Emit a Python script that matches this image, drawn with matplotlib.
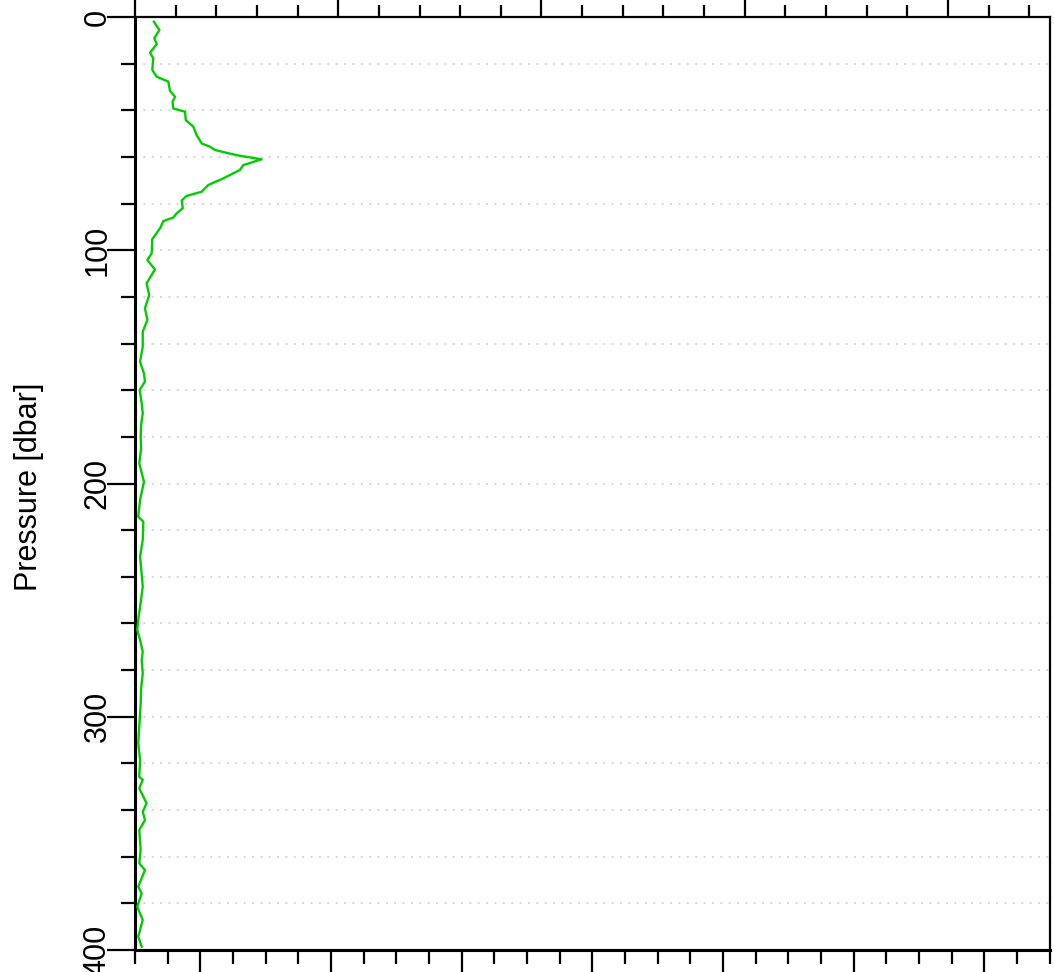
import matplotlib
matplotlib.use("Agg")
import matplotlib.pyplot as plt
from matplotlib.ticker import MultipleLocator, NullFormatter

plt.rcParams['font.family'] = ['Liberation Sans', 'DejaVu Sans']

# Profile data (value in top-axis units, pressure in dbar)
pressure = [2.0, 5.6, 9.1, 11.6, 15.3, 17.7, 22.7, 25.6, 27.7, 31.6, 34.2, 36.3,
            39.2, 40.6, 44.2, 47.0, 50.6, 54.2, 55.6, 57.0, 58.4, 59.5, 61.0,
            63.5, 65.6, 69.2, 72.0, 74.9, 76.7, 78.7, 82.0, 84.2, 86.0, 87.5,
            90.2, 95.3, 101.3, 104.2, 108.2, 114.2, 119.2, 124.9, 129.9, 134.9,
            141.3, 147.8, 152.8, 156.3, 159.9, 165.6, 169.9, 175.0, 179.9, 185.0,
            191.4, 199.2, 207.1, 214.2, 216.4, 224.2, 231.4, 238.0, 244.2, 251.0,
            258.5, 262.8, 267.1, 272.1, 275.7, 281.4, 288.0, 294.2, 304.2, 311.4,
            318.5, 325.7, 327.1, 330.7, 337.1, 340.7, 344.3, 348.6, 357.1, 362.8,
            365.7, 372.9, 375.7, 381.4, 387.1, 394.3, 398.6]
values = [0.093, 0.12, 0.095, 0.107, 0.074, 0.09, 0.085, 0.107, 0.164, 0.172, 0.197,
          0.185, 0.188, 0.246, 0.25, 0.287, 0.303, 0.328, 0.369, 0.393, 0.459, 0.516,
          0.623, 0.533, 0.516, 0.434, 0.361, 0.328, 0.254, 0.230, 0.235, 0.205, 0.188,
          0.139, 0.126, 0.085, 0.082, 0.061, 0.098, 0.057, 0.07, 0.049, 0.061, 0.038,
          0.038, 0.025, 0.044, 0.049, 0.023, 0.033, 0.038, 0.030, 0.028, 0.030, 0.021,
          0.044, 0.025, 0.016, 0.041, 0.038, 0.025, 0.032, 0.038, 0.028, 0.016, 0.011,
          0.025, 0.038, 0.033, 0.038, 0.030, 0.028, 0.021, 0.016, 0.025, 0.021, 0.038,
          0.021, 0.057, 0.038, 0.049, 0.021, 0.028, 0.021, 0.049, 0.016, 0.033, 0.011,
          0.038, 0.016, 0.033]

y_ticks = [0, 100, 200, 300, 400]
grid_levels = [v for v in range(20, 400, 20)]

top_lim = (0, 4.5)
bottom_lim = (-0.5, 6.5)

fig = plt.figure(figsize=(10.55, 9.72), dpi=100)
ax = fig.add_axes([135 / 1055, 22 / 972, 914.5 / 1055, 933 / 972])

for g in grid_levels:
    ax.axhline(g, color='#d6d6d6', lw=1.4, linestyle=(0, (1, 3.3)), zorder=1)

ax.plot(values, pressure, color='#00cd00', lw=1.7, zorder=3)

ax.set_xlim(*top_lim)
ax.set_ylim(400, 0)

# top axis
ax.xaxis.tick_top()
ax.xaxis.set_major_locator(MultipleLocator(1))
ax.xaxis.set_minor_locator(MultipleLocator(0.2))
ax.xaxis.set_major_formatter(NullFormatter())
ax.tick_params(axis='x', which='major', length=19, width=1.6, direction='out')
ax.tick_params(axis='x', which='minor', length=9, width=1.6, direction='out')

# y axis
ax.set_yticks(y_ticks)
ax.set_yticklabels([str(v) for v in y_ticks], rotation=90, va='center', fontsize=22)
ax.yaxis.set_minor_locator(MultipleLocator(20))
ax.tick_params(axis='y', which='major', length=20, width=1.6, pad=-3.8, direction='out')
ax.tick_params(axis='y', which='minor', length=10, width=1.6, direction='out')

# bottom axis (different scale)
f = lambda t: bottom_lim[0] + (t - top_lim[0]) * (bottom_lim[1] - bottom_lim[0]) / (top_lim[1] - top_lim[0])
finv = lambda b: top_lim[0] + (b - bottom_lim[0]) * (top_lim[1] - top_lim[0]) / (bottom_lim[1] - bottom_lim[0])
sec = ax.secondary_xaxis('bottom', functions=(f, finv))
sec.xaxis.set_major_locator(MultipleLocator(1))
sec.xaxis.set_minor_locator(MultipleLocator(0.25))
sec.xaxis.set_major_formatter(NullFormatter())
sec.tick_params(axis='x', which='major', length=19, width=1.6, direction='out')
sec.tick_params(axis='x', which='minor', length=10, width=1.6, direction='out')
sec.spines['bottom'].set_linewidth(2.2)

for side in ['left', 'bottom']:
    ax.spines[side].set_linewidth(2.2)
for side in ['top', 'right']:
    ax.spines[side].set_linewidth(1.6)

fig.text(29 / 1055, 1 - 487 / 972, 'Pressure [dbar]', rotation=90,
         ha='center', va='center', fontsize=22)

fig.savefig('out.png', dpi=100)
